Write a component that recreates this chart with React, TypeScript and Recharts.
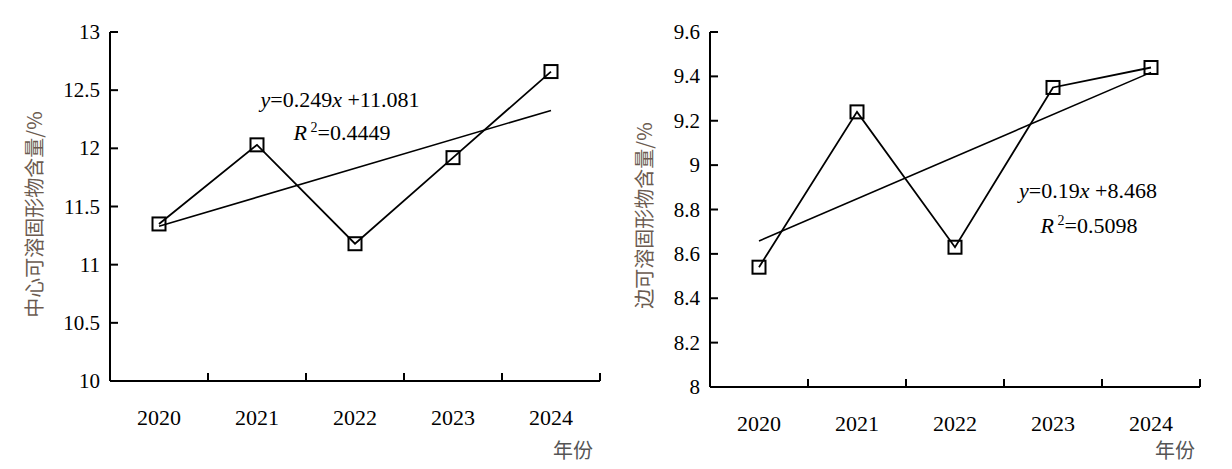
import { LineChart, Line, XAxis, YAxis } from 'recharts';

const years = ['2020', '2021', '2022', '2023', '2024'];
const yearIndex = [1, 2, 3, 4, 5];
const centerValues = [11.35, 12.03, 11.18, 11.92, 12.66];
const edgeValues = [8.54, 9.24, 8.63, 9.35, 9.44];
// fitted lines, end points (match the printed equations)
const centerTrend = [11.33, 12.326];
const edgeTrend = [8.658, 9.418];
const centerTicks = [10, 10.5, 11, 11.5, 12, 12.5, 13];
const edgeTicks = [8, 8.2, 8.4, 8.6, 8.8, 9, 9.2, 9.4, 9.6];
const xTicks = [1, 1.5, 2, 2.5, 3, 3.5, 4, 4.5, 5, 5.5];

const serif = 'Liberation Serif, DejaVu Serif, Times New Roman, Times, serif';
const cjk = 'Noto Sans CJK SC, sans-serif';

const XTick = (props: any) => {
  const { x, y, payload } = props;
  const v = payload.value;
  if (Number.isInteger(v)) {
    return (
      <text x={x} y={y + 44} textAnchor="middle" style={{ fontFamily: serif, fontSize: 22 }} fill="#000">
        {years[v - 1]}
      </text>
    );
  }
  return <line x1={x} y1={y} x2={x} y2={y - 8} stroke="#000" strokeWidth={2} />;
};

const YTick = (props: any) => {
  const { x, y, payload } = props;
  return (
    <g>
      <line x1={x} y1={y} x2={x + 8} y2={y} stroke="#000" strokeWidth={2} />
      <text x={x - 10} y={y + 7} textAnchor="end" style={{ fontFamily: serif, fontSize: 21 }} fill="#000">
        {payload.value}
      </text>
    </g>
  );
};

const SquareDot = (props: any) => {
  const { cx, cy } = props;
  if (cx == null || cy == null) return null;
  return <rect x={cx - 6.5} y={cy - 6.5} width={13} height={13} fill="none" stroke="#000" strokeWidth={2} />;
};

function yTitle(title: string, dx: number, dy: number) {
  return (props: any) => {
    const vb = props.viewBox;
    const cx = vb.x + dx;
    const cy = vb.y + vb.height / 2 + dy;
    return (
      <text
        x={cx}
        y={cy}
        transform={`rotate(-90 ${cx} ${cy})`}
        textAnchor="middle"
        dominantBaseline="central"
        style={{ fontFamily: cjk, fontSize: 20 }}
        fill="#6b5b50"
      >
        {title}
      </text>
    );
  };
}

interface PanelProps {
  values: number[];
  trend: number[];
  ticks: number[];
  domain: [number, number];
  title: string;
  yWidth: number;
  xHeight: number;
  right: number;
  titleDx: number;
  titleDy: number;
}

function Panel({ values, trend, ticks, domain, title, yWidth, xHeight, right, titleDx, titleDy }: PanelProps) {
  const data = yearIndex.map((i, k) => ({ x: i, v: values[k] }));
  const trendData = [
    { x: yearIndex[0], t: trend[0] },
    { x: yearIndex[yearIndex.length - 1], t: trend[1] },
  ];
  return (
    <LineChart width={616} height={469} data={data} margin={{ top: 32, right, bottom: 0, left: 0 }}>
      <XAxis
        dataKey="x"
        type="number"
        domain={[0.5, 5.5]}
        ticks={xTicks}
        interval={0}
        tickSize={0}
        tickMargin={0}
        tickLine={false}
        tick={<XTick />}
        height={xHeight}
        axisLine={{ stroke: '#000', strokeWidth: 2 }}
      />
      <YAxis
        type="number"
        domain={domain}
        ticks={ticks}
        interval={0}
        tickSize={0}
        tickMargin={0}
        tickLine={false}
        tick={<YTick />}
        width={yWidth}
        axisLine={{ stroke: '#000', strokeWidth: 2 }}
        label={yTitle(title, titleDx, titleDy)}
      />
      <Line
        data={trendData}
        dataKey="t"
        type="linear"
        stroke="#000"
        strokeWidth={1.6}
        dot={false}
        isAnimationActive={false}
      />
      <Line
        dataKey="v"
        type="linear"
        stroke="#000"
        strokeWidth={1.8}
        dot={<SquareDot />}
        activeDot={false}
        isAnimationActive={false}
      />
    </LineChart>
  );
}

const eqStyle: React.CSSProperties = {
  position: 'absolute',
  fontFamily: serif,
  fontSize: 22,
  color: '#000',
  whiteSpace: 'nowrap',
  transform: 'translateX(-50%)',
  lineHeight: '24px',
};

const unitStyle: React.CSSProperties = {
  position: 'absolute',
  fontFamily: cjk,
  fontSize: 20,
  color: '#555',
  whiteSpace: 'nowrap',
  lineHeight: '22px',
};

const supStyle: React.CSSProperties = { fontSize: 14, verticalAlign: 'top', lineHeight: '14px' };

export default function App() {
  return (
    <div style={{ position: 'absolute', left: 0, top: 0, width: 1232, height: 469, background: '#fff' }}>
      <div style={{ position: 'absolute', left: 0, top: 0 }}>
        <Panel
          values={centerValues}
          trend={centerTrend}
          ticks={centerTicks}
          domain={[10, 13]}
          title="中心可溶固形物含量/%"
          yWidth={110}
          xHeight={88}
          right={16}
          titleDx={33}
          titleDy={8}
        />
      </div>
      <div style={{ position: 'absolute', left: 616, top: 0 }}>
        <Panel
          values={edgeValues}
          trend={edgeTrend}
          ticks={edgeTicks}
          domain={[8, 9.6]}
          title="边可溶固形物含量/%"
          yWidth={94}
          xHeight={82}
          right={32}
          titleDx={27}
          titleDy={6}
        />
      </div>
      <div style={{ ...eqStyle, left: 340, top: 88 }}>
        <i>y</i>=0.249<i>x</i> +11.081
      </div>
      <div style={{ ...eqStyle, left: 342, top: 121 }}>
        <i>R</i>
        <sup style={supStyle}> 2</sup>=0.4449
      </div>
      <div style={{ ...eqStyle, left: 1088, top: 179 }}>
        <i>y</i>=0.19<i>x</i> +8.468
      </div>
      <div style={{ ...eqStyle, left: 1089, top: 214 }}>
        <i>R</i>
        <sup style={supStyle}> 2</sup>=0.5098
      </div>
      <div style={{ ...unitStyle, left: 553, top: 439 }}>年份</div>
      <div style={{ ...unitStyle, left: 1155, top: 439 }}>年份</div>
    </div>
  );
}
